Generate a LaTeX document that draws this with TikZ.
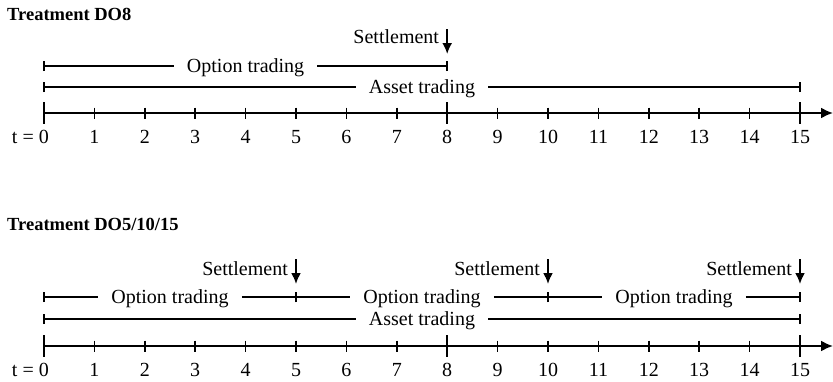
\documentclass[tikz,border=0pt]{standalone}
\usepackage{fontspec}
\setmainfont{Liberation Serif}
\usetikzlibrary{arrows.meta}
\newcommand\tpos[1]{44+50.4*#1}
\begin{document}
\begin{tikzpicture}[x=1pt,y=-1pt,
  lbl/.style={font=\fontsize{20}{23}\selectfont, inner ysep=0pt, inner xsep=0pt},
  seglbl/.style={font=\fontsize{20}{23}\selectfont, inner ysep=0pt, inner xsep=13pt, anchor=base},
  ttl/.style={font=\fontsize{18.5}{22}\selectfont\bfseries, anchor=base west, inner sep=0pt},
  axisline/.style={line width=2pt, -{Latex[length=12pt,width=11pt]}},
  seg/.style={line width=1.6pt},
  tick/.style={line width=1.5pt},
  settle/.style={line width=2pt, -{Latex[length=11pt,width=10pt]}}]
\useasboundingbox (0,0) rectangle (833,381);

% ---------------- Treatment DO8 ----------------
\node[ttl] (t1) at (7,20) {Treatment DO8};

% axis
\coordinate (a1s) at (44,113);
\coordinate (a1e) at (833,113);
\draw[axisline] (a1s) -- (a1e);
\foreach \i in {1,...,7,9,10,...,14}{
  \draw[tick] ({\tpos{\i}},107.5) -- ({\tpos{\i}},118.5);
}
\foreach \i in {0,8,15}{
  \draw[tick] ({\tpos{\i}},102) -- ({\tpos{\i}},124);
}
\node[lbl, anchor=base east] (n1z) at (49,143) {t = 0};
\foreach \i in {1,...,15}{
  \node[lbl, anchor=base] (n1\i) at ({\tpos{\i}},143) {\i};
}

% option trading 0-8
\coordinate (o1s) at ({\tpos{0}},66);
\coordinate (o1e) at ({\tpos{8}},66);
\node[seglbl] (o1t) at ({\tpos{4}},72) {Option trading};
\draw[seg] (o1s) -- (o1s -| o1t.west);
\draw[seg] (o1t.east |- o1e) -- (o1e);
\draw[tick] ([yshift=-5pt]o1s) -- ([yshift=5pt]o1s);
\draw[tick] ([yshift=-5pt]o1e) -- ([yshift=5pt]o1e);

% asset trading 0-15
\coordinate (s1s) at ({\tpos{0}},87);
\coordinate (s1e) at ({\tpos{15}},87);
\node[seglbl] (s1t) at ({\tpos{7.5}},93) {Asset trading};
\draw[seg] (s1s) -- (s1s -| s1t.west);
\draw[seg] (s1t.east |- s1e) -- (s1e);
\draw[tick] ([yshift=-5pt]s1s) -- ([yshift=5pt]s1s);
\draw[tick] ([yshift=-5pt]s1e) -- ([yshift=5pt]s1e);

% settlement
\coordinate (st1a) at ({\tpos{8}},29);
\coordinate (st1b) at ({\tpos{8}},54);
\draw[settle] (st1a) -- (st1b);
\node[lbl, anchor=base east] (st1t) at ({\tpos{8}-8},43) {Settlement};

% ---------------- Treatment DO5/10/15 ----------------
\node[ttl] (t2) at (7,230) {Treatment DO5/10/15};

\coordinate (a2s) at (44,346);
\coordinate (a2e) at (833,346);
\draw[axisline] (a2s) -- (a2e);
\foreach \i in {1,...,7,9,10,...,14}{
  \draw[tick] ({\tpos{\i}},340.5) -- ({\tpos{\i}},351.5);
}
\foreach \i in {0,8,15}{
  \draw[tick] ({\tpos{\i}},335) -- ({\tpos{\i}},357);
}
\node[lbl, anchor=base east] (n2z) at (49,376) {t = 0};
\foreach \i in {1,...,15}{
  \node[lbl, anchor=base] (n2\i) at ({\tpos{\i}},376) {\i};
}

% option trading segments and settlements
\foreach \a/\b/\c/\k in {0/5/2.5/a, 5/10/7.5/b, 10/15/12.5/c}{
  \coordinate (o2s\k) at ({\tpos{\a}},297);
  \coordinate (o2e\k) at ({\tpos{\b}},297);
  \node[seglbl] (o2t\k) at ({\tpos{\c}},303) {Option trading};
  \draw[seg] (o2s\k) -- (o2s\k -| o2t\k.west);
  \draw[seg] (o2t\k.east |- o2e\k) -- (o2e\k);
  \draw[tick] ([yshift=-5pt]o2s\k) -- ([yshift=5pt]o2s\k);
  \draw[tick] ([yshift=-5pt]o2e\k) -- ([yshift=5pt]o2e\k);
  \coordinate (st2a\k) at ({\tpos{\b}},259);
  \coordinate (st2b\k) at ({\tpos{\b}},284);
  \draw[settle] (st2a\k) -- (st2b\k);
  \node[lbl, anchor=base east] (st2t\k) at ({\tpos{\b}-8},275) {Settlement};
}

% asset trading 0-15
\coordinate (s2s) at ({\tpos{0}},319);
\coordinate (s2e) at ({\tpos{15}},319);
\node[seglbl] (s2t) at ({\tpos{7.5}},325) {Asset trading};
\draw[seg] (s2s) -- (s2s -| s2t.west);
\draw[seg] (s2t.east |- s2e) -- (s2e);
\draw[tick] ([yshift=-5pt]s2s) -- ([yshift=5pt]s2s);
\draw[tick] ([yshift=-5pt]s2e) -- ([yshift=5pt]s2e);
\end{tikzpicture}
\end{document}
